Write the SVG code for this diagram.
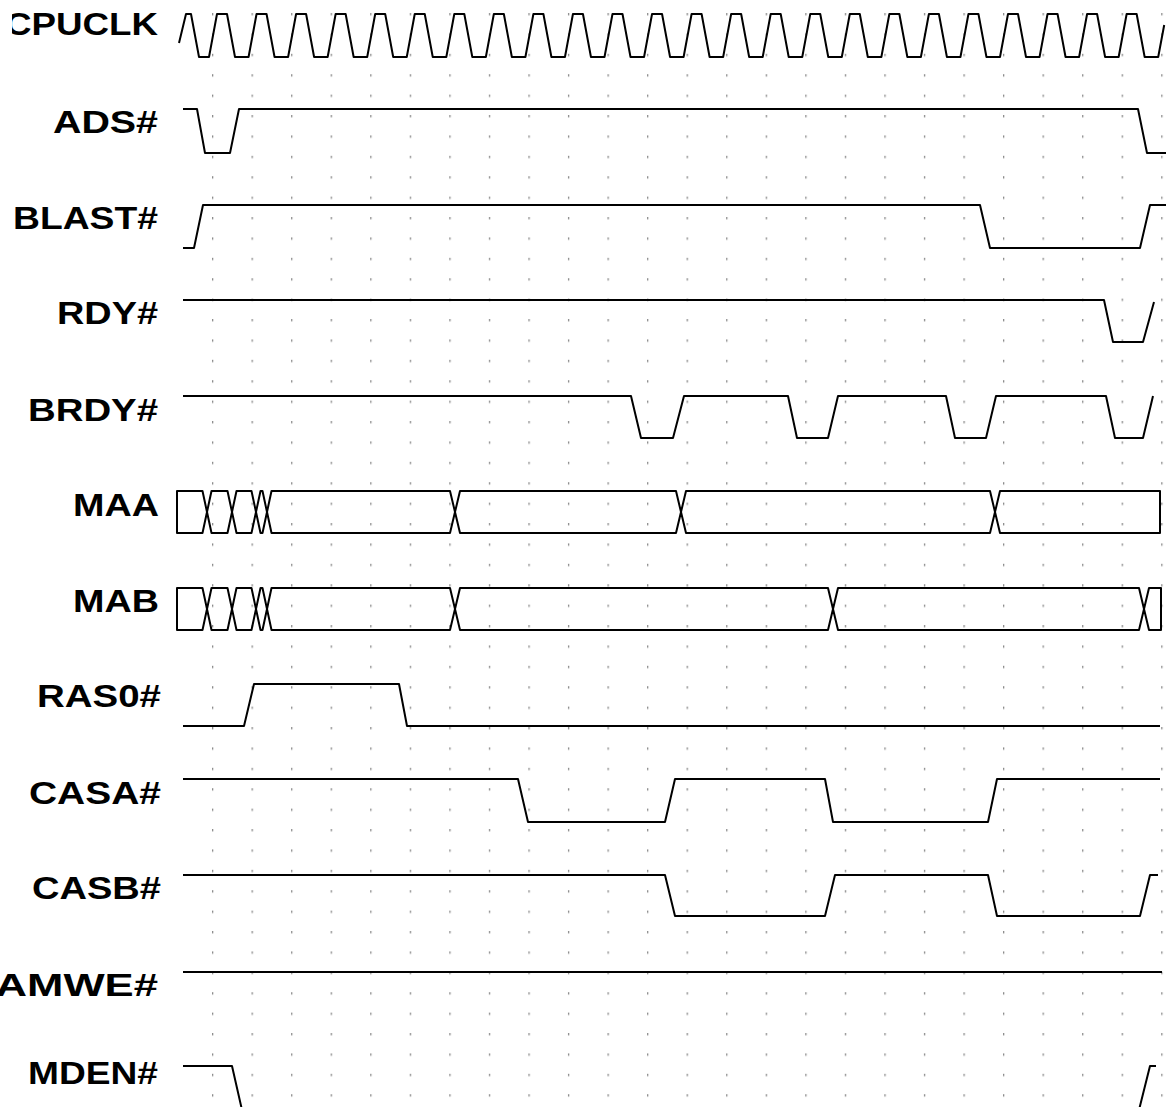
<svg xmlns="http://www.w3.org/2000/svg" width="1169" height="1107" viewBox="0 0 1169 1107">
<style>
.w{fill:none;stroke:#000;stroke-width:2;stroke-linejoin:round;stroke-linecap:butt}
.lbl{font-family:"Liberation Sans",Arial,Helvetica,sans-serif;font-weight:bold;font-size:31.5px;fill:#000}
</style>
<defs>
<pattern id="dots" patternUnits="userSpaceOnUse" x="212" y="13" width="39.55" height="20.4">
<rect x="0" y="0" width="1.3" height="2.4" fill="#8c8c8c"/>
</pattern>
<clipPath id="cutL"><rect x="12" y="0" width="200" height="60"/></clipPath>
</defs>
<rect width="1169" height="1107" fill="#fff"/>
<g id="grid"><rect x="205" y="0" width="964" height="1107" fill="url(#dots)"/></g>

<g id="sig-cpuclk">
<text class="lbl" x="5" y="34.5" textLength="153" lengthAdjust="spacingAndGlyphs" clip-path="url(#cutL)">CPUCLK</text>
<path class="w" d="M179,43 L186,14 H191 L199,57 H209 l8,-43 h10 l8,43 h13.55 l8,-43 h10 l8,43 h13.55 l8,-43 h10 l8,43 h13.55 l8,-43 h10 l8,43 h13.55 l8,-43 h10 l8,43 h13.55 l8,-43 h10 l8,43 h13.55 l8,-43 h10 l8,43 h13.55 l8,-43 h10 l8,43 h13.55 l8,-43 h10 l8,43 h13.55 l8,-43 h10 l8,43 h13.55 l8,-43 h10 l8,43 h13.55 l8,-43 h10 l8,43 h13.55 l8,-43 h10 l8,43 h13.55 l8,-43 h10 l8,43 h13.55 l8,-43 h10 l8,43 h13.55 l8,-43 h10 l8,43 h13.55 l8,-43 h10 l8,43 h13.55 l8,-43 h10 l8,43 h13.55 l8,-43 h10 l8,43 h13.55 l8,-43 h10 l8,43 h13.55 l8,-43 h10 l8,43 h13.55 l8,-43 h10 l8,43 h13.55 l8,-43 h10 l8,43 h13.55 l8,-43 h10 l8,43 h13.55 l6,-32"/>
</g>

<g id="sig-ads">
<text class="lbl" x="53" y="132.5" textLength="105" lengthAdjust="spacingAndGlyphs">ADS#</text>
<path class="w" d="M183,109 H197 L205,153 H230 L239,109 H1138 L1147,153 H1166"/>
</g>

<g id="sig-blast">
<text class="lbl" x="13" y="228.5" textLength="145" lengthAdjust="spacingAndGlyphs">BLAST#</text>
<path class="w" d="M183,248 H194 L203,205 H980 L990,248 H1140 L1150,205 H1166"/>
</g>

<g id="sig-rdy">
<text class="lbl" x="57" y="323.5" textLength="101" lengthAdjust="spacingAndGlyphs">RDY#</text>
<path class="w" d="M183,300 H1104 L1113,342 H1143 L1154,302"/>
</g>

<g id="sig-brdy">
<text class="lbl" x="28" y="420.5" textLength="130" lengthAdjust="spacingAndGlyphs">BRDY#</text>
<path class="w" d="M183,396 H631 L641,438 H673 L684,396 H788 L797,438 H828 L838,396 H946 L955,438 H986 L996,396 H1106 L1115,438 H1143 L1153,396"/>
</g>

<g id="sig-maa">
<text class="lbl" x="73" y="515.5" textLength="86" lengthAdjust="spacingAndGlyphs">MAA</text>
<path class="w" d="M177,491 H202.5 L207,512 L202.5,533 H177 Z M207,512 L211.5,491 H227.5 L232,512 L227.5,533 H211.5 Z M232,512 L236.5,491 H251.5 L256,512 L251.5,533 H236.5 Z M256,512 L260.5,491 H262.5 L267,512 L262.5,533 H260.5 Z M267,512 L271.5,491 H450 L455,512 L450,533 H271.5 Z M455,512 L460,491 H676 L681,512 L676,533 H460 Z M681,512 L686,491 H990 L995,512 L990,533 H686 Z M995,512 L1000,491 H1160 V533 H1000 Z"/>
</g>

<g id="sig-mab">
<text class="lbl" x="73" y="611.5" textLength="86" lengthAdjust="spacingAndGlyphs">MAB</text>
<path class="w" d="M177,588 H202.5 L207,609 L202.5,630 H177 Z M207,609 L211.5,588 H227.5 L232,609 L227.5,630 H211.5 Z M232,609 L236.5,588 H251.5 L256,609 L251.5,630 H236.5 Z M256,609 L260.5,588 H262.5 L267,609 L262.5,630 H260.5 Z M267,609 L271.5,588 H450 L455,609 L450,630 H271.5 Z M455,609 L460,588 H828 L833,609 L828,630 H460 Z M833,609 L838,588 H1139 L1144,609 L1139,630 H838 Z M1144,609 L1149,588 H1161 V630 H1149 Z"/>
</g>

<g id="sig-ras0">
<text class="lbl" x="37" y="706.5" textLength="124" lengthAdjust="spacingAndGlyphs">RAS0#</text>
<path class="w" d="M183,726 H244 L254,684 H399 L407,726 H1160"/>
</g>

<g id="sig-casa">
<text class="lbl" x="29" y="803.5" textLength="132" lengthAdjust="spacingAndGlyphs">CASA#</text>
<path class="w" d="M183,779 H518 L528,822 H665 L675,779 H825 L833,822 H988 L997,779 H1160"/>
</g>

<g id="sig-casb">
<text class="lbl" x="32" y="898.5" textLength="129" lengthAdjust="spacingAndGlyphs">CASB#</text>
<path class="w" d="M183,875 H665 L675,916 H825 L835,875 H988 L997,916 H1140 L1150,875 H1158"/>
</g>

<g id="sig-ramwe">
<text class="lbl" x="-36" y="995.5" textLength="194" lengthAdjust="spacingAndGlyphs">RAMWE#</text>
<path class="w" d="M183,972 H1162"/>
</g>

<g id="sig-mden">
<text class="lbl" x="28" y="1083.5" textLength="130" lengthAdjust="spacingAndGlyphs">MDEN#</text>
<path class="w" d="M183,1066 H232 L242,1110 M1139,1110 L1150,1066 H1156"/>
</g>

<g id="connectors"></g>
</svg>
